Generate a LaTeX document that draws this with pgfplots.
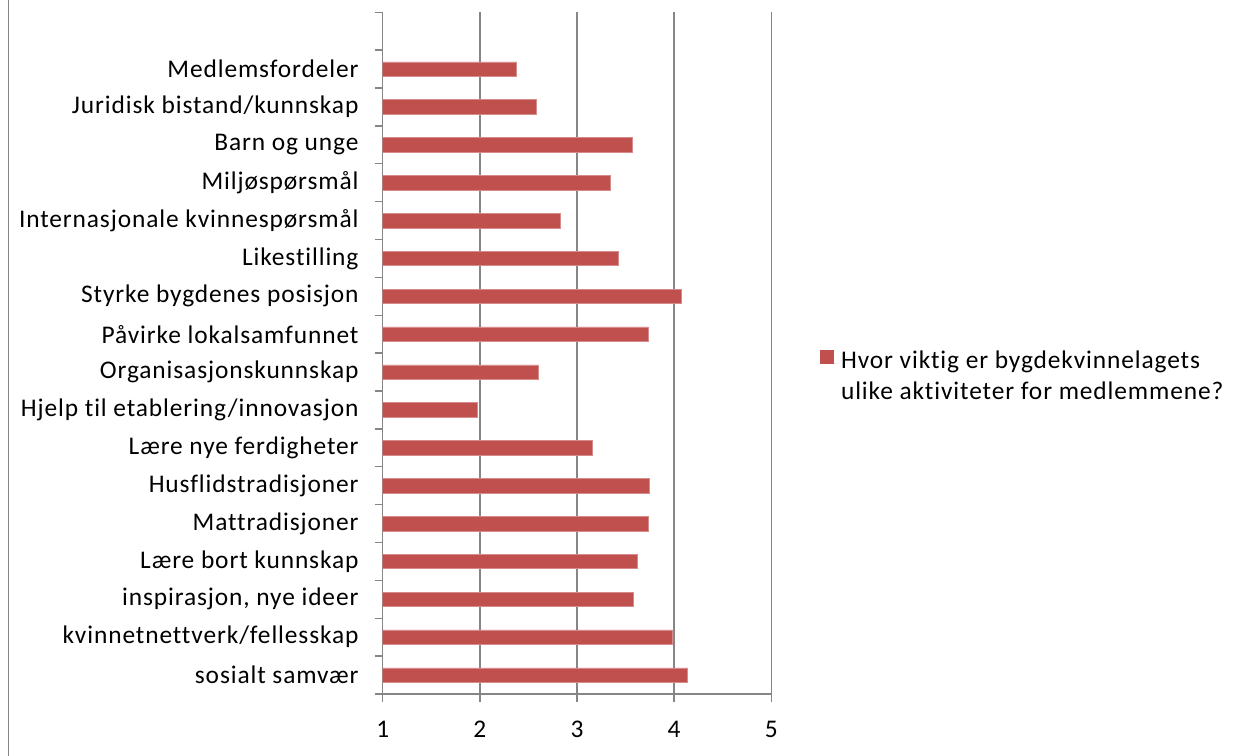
\documentclass[border=0pt]{standalone}
\usepackage{fontspec}
\setmainfont{Carlito}[Ligatures={NoCommon,NoRare}, LetterSpace=3.5]
\usepackage{pgfplots}
\pgfplotsset{compat=1.18}
\definecolor{barred}{RGB}{192,80,77}
\definecolor{baredge}{RGB}{214,140,138}
\definecolor{gridgray}{RGB}{134,134,134}
\begin{document}
\fontsize{25.5}{31}\selectfont
\begin{tikzpicture}
\path[use as bounding box] (0,0) rectangle (1238bp,756bp);
\draw[gridgray, line width=1.4bp] (8.3bp,0) -- (8.3bp,756bp);
\begin{axis}[
  at={(382.7bp,62bp)}, anchor=south west,
  scale only axis, width=388.6bp, height=681.7bp,
  xmin=1, xmax=5, ymin=-0.5, ymax=17.5,
  xtick={1,2,3,4,5},
  ytick={-0.5,0.5,...,17.5},
  yticklabels={sosialt samvær,kvinnetnettverk/fellesskap,{inspirasjon, nye ideer},Lære bort kunnskap,Mattradisjoner,Husflidstradisjoner,Lære nye ferdigheter,Hjelp til etablering/innovasjon,Organisasjonskunnskap,Påvirke lokalsamfunnet,Styrke bygdenes posisjon,Likestilling,Internasjonale kvinnespørsmål,Miljøspørsmål,Barn og unge,Juridisk bistand/kunnskap,Medlemsfordeler,{},{}},
  yticklabel style={yshift=18.94bp, inner sep=0pt, xshift=-16bp},
  xticklabel style={inner sep=0pt, yshift=-19bp},
  /pgf/number format/assume math mode=true,
  tick align=outside,
  major tick length=8bp,
  tick style={gridgray, line width=1.4bp},
  axis x line*=bottom, axis y line*=left,
  axis line style={gridgray, line width=1.4bp, -},
  xmajorgrids,
  major grid style={gridgray, line width=1.4bp},
  legend style={draw=none, fill=none, at={(axis description cs:1.125,0.506)}, anchor=north west, inner sep=0pt, cells={align=left, anchor=west}},
  legend image code/.code={\fill[barred, draw=none] (0bp,13.5bp) rectangle (14bp,27.5bp); \path[draw=none] (0bp,13.5bp) -- (19bp,13.5bp);},
]
\addplot[xbar, bar width=14.5bp, fill=barred, draw=baredge, line width=0.6bp]
coordinates {
(4.14,0) (3.98,1) (3.58,2) (3.62,3) (3.73,4) (3.74,5) (3.16,6) (1.97,7) (2.60,8) (3.73,9) (4.07,10) (3.43,11) (2.83,12) (3.34,13) (3.57,14) (2.58,15) (2.38,16)
};
\addlegendentry{Hvor viktig er bygdekvinnelagets\\ulike aktiviteter for medlemmene?}
\end{axis}
\end{tikzpicture}
\end{document}
